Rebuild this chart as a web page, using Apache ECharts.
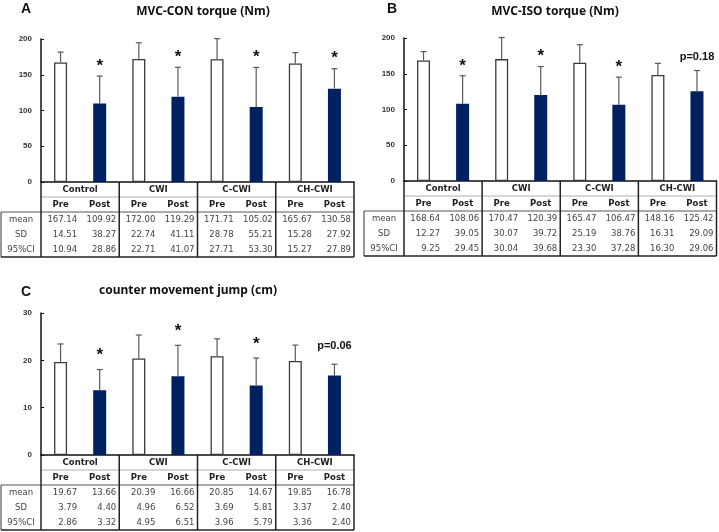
<!DOCTYPE html>
<html>
<head>
<meta charset="utf-8">
<script src="https://cdn.jsdelivr.net/npm/echarts@6/dist/echarts.min.js"></script>
<style>
html, body { margin: 0; padding: 0; background: #fff; }
#chart { width: 719px; height: 532px; }
</style>
</head>
<body>
<div id="chart"></div>
<script>
var groups = ['Control', 'CWI', 'C-CWI', 'CH-CWI'];
var phases = ['Pre', 'Post'];
var rowLabels = ['mean', 'SD', '95%CI'];

// A: MVC-CON torque
var conMean = [167.14, 109.92, 172.00, 119.29, 171.71, 105.02, 165.67, 130.58];
var conSD = [14.51, 38.27, 22.74, 41.11, 28.78, 55.21, 15.28, 27.92];
var conCI = [10.94, 28.86, 22.71, 41.07, 27.71, 53.30, 15.27, 27.89];
var conMarks = ['*', '*', '*', '*'];

// B: MVC-ISO torque
var isoMean = [168.64, 108.06, 170.47, 120.39, 165.47, 106.47, 148.16, 125.42];
var isoSD = [12.27, 39.05, 30.07, 39.72, 25.19, 38.76, 16.31, 29.09];
var isoCI = [9.25, 29.45, 30.04, 39.68, 23.30, 37.28, 16.30, 29.06];
var isoMarks = ['*', '*', '*', 'p=0.18'];

// C: counter movement jump
var cmjMean = [19.67, 13.66, 20.39, 16.66, 20.85, 14.67, 19.85, 16.78];
var cmjSD = [3.79, 4.40, 4.96, 6.52, 3.69, 5.81, 3.37, 2.40];
var cmjCI = [2.86, 3.32, 4.95, 6.51, 3.96, 5.79, 3.36, 2.40];
var cmjMarks = ['*', '*', '*', 'p=0.06'];

var NAVY = '#002060';
var EDGE = '#3a3a3a';
var ERR = '#595959';
var TXT = '#444';

var cats = [];
groups.forEach(function(g) {
    phases.forEach(function(p) { cats.push(g + ' ' + p); });
});

var panels = [
    { letter: 'A', title: 'MVC-CON torque (Nm)', mean: conMean, sd: conSD, ci: conCI, marks: conMarks,
      max: 200, interval: 50, gap: 14, grid: { left: 41, top: 39, width: 313, height: 143 },
      letterPos: [21, 2], titlePos: [203, 6] },
    { letter: 'B', title: 'MVC-ISO torque (Nm)', mean: isoMean, sd: isoSD, ci: isoCI, marks: isoMarks,
      max: 200, interval: 50, gap: 14, grid: { left: 404, top: 38, width: 312.5, height: 143 },
      letterPos: [387, 2], titlePos: [555, 6] },
    { letter: 'C', title: 'counter movement jump (cm)', mean: cmjMean, sd: cmjSD, ci: cmjCI, marks: cmjMarks,
      max: 30, interval: 10, gap: 18, grid: { left: 41, top: 313, width: 313, height: 142 },
      letterPos: [21, 285], titlePos: [188, 285] }
];

var chart = echarts.init(document.getElementById('chart'));

var option = {
    animation: false,
    backgroundColor: '#fff',
    title: [],
    grid: [],
    xAxis: [],
    yAxis: [],
    series: []
};

panels.forEach(function(p, gi) {
    option.title.push({
        text: p.letter, left: p.letterPos[0], top: p.letterPos[1], padding: 0,
        textStyle: { fontFamily: 'Liberation Sans', fontWeight: 'bold', fontSize: 14, color: '#111' }
    });
    option.title.push({
        text: p.title, left: p.titlePos[0], top: p.titlePos[1], padding: 0, textAlign: 'center',
        textStyle: { fontFamily: 'Noto Sans', fontWeight: 'bold', fontSize: 12, color: '#111' }
    });
    option.grid.push(p.grid);
    option.xAxis.push({
        type: 'category', gridIndex: gi, data: cats,
        axisLine: { lineStyle: { color: '#111', width: 1.5 } },
        axisTick: { show: false }, axisLabel: { show: false }, splitLine: { show: false }
    });
    option.yAxis.push({
        type: 'value', gridIndex: gi, min: 0, max: p.max, interval: p.interval,
        axisLine: { show: true, lineStyle: { color: '#111', width: 1.5 } },
        axisTick: { show: true, inside: true, length: 3, lineStyle: { color: '#111' } },
        axisLabel: { fontFamily: 'Liberation Sans', fontWeight: 'bold', fontSize: 8, color: '#333', margin: 9 },
        splitLine: { show: false }
    });
    option.series.push({
        type: 'bar', xAxisIndex: gi, yAxisIndex: gi, barWidth: 13,
        data: p.mean.map(function(v, i) {
            return {
                value: v,
                itemStyle: i % 2 === 0
                    ? { color: '#fff', borderColor: EDGE, borderWidth: 1.3 }
                    : { color: NAVY, borderColor: NAVY, borderWidth: 0 }
            };
        })
    });
    option.series.push({
        type: 'custom', xAxisIndex: gi, yAxisIndex: gi, clip: false, z: 3,
        data: p.mean.map(function(v, i) { return [i, v, p.sd[i]]; }),
        renderItem: function(params, api) {
            var i = api.value(0);
            var base = api.coord([i, api.value(1)]);
            var top = api.coord([i, api.value(1) + api.value(2)]);
            var st = { stroke: ERR, lineWidth: 1.2 };
            return { type: 'group', children: [
                { type: 'line', shape: { x1: base[0], y1: base[1], x2: top[0], y2: top[1] }, style: st },
                { type: 'line', shape: { x1: top[0] - 3, y1: top[1], x2: top[0] + 3, y2: top[1] }, style: st }
            ] };
        }
    });
    option.series.push({
        type: 'custom', xAxisIndex: gi, yAxisIndex: gi, clip: false, z: 4,
        data: p.marks.map(function(m, k) { var i = k * 2 + 1; return [i, p.mean[i] + p.sd[i]]; }),
        renderItem: function(params, api) {
            var pt = api.coord([api.value(0), api.value(1)]);
            var txt = p.marks[params.dataIndex];
            var star = txt === '*';
            return {
                type: 'text',
                style: {
                    text: txt, x: pt[0], y: pt[1] - p.gap + (star ? 4 : 0),
                    align: 'center', verticalAlign: 'middle', fill: '#111',
                    font: 'bold ' + (star ? 17 : 11) + 'px "Liberation Sans"'
                }
            };
        }
    });
});

chart.setOption(option);

// tables under each panel, placed from the category axis
function tableGraphics(gi, p) {
    var els = [];
    var a = chart.convertToPixel({ gridIndex: gi }, [0, 0]);
    var b = chart.convertToPixel({ gridIndex: gi }, [cats.length - 1, 0]);
    var band = (b[0] - a[0]) / (cats.length - 1);
    var left = a[0] - band / 2, right = b[0] + band / 2, top = a[1];
    var rh = 15, labW = 40;
    var rowY = function(r) { return top + r * rh; };
    function line(x1, y1, x2, y2, color, w) {
        els.push({ type: 'line', shape: { x1: x1, y1: y1, x2: x2, y2: y2 }, style: { stroke: color, lineWidth: w } });
    }
    function text(t, x, y, align, bold, color) {
        els.push({ type: 'text', style: { text: t, x: x, y: y, align: align, verticalAlign: 'middle', fill: color,
            font: (bold ? 'bold ' : '') + '8.5px "DejaVu Sans"' } });
    }
    line(left, rowY(1), right, rowY(1), '#999', 0.8);
    line(left - labW, rowY(2), right, rowY(2), '#555', 1);
    line(left - labW, rowY(2), left - labW, rowY(5), '#333', 1);
    line(left - labW, rowY(5), right, rowY(5), '#222', 1.5);
    for (var k = 0; k <= groups.length; k++) {
        var x = left + k * 2 * band;
        line(x, top, x, rowY(5), '#222', 1.5);
    }
    groups.forEach(function(g, k) {
        text(g, left + (k * 2 + 1) * band, rowY(0.5), 'center', true, '#222');
    });
    cats.forEach(function(c, i) {
        var cx = left + (i + 0.5) * band;
        text(phases[i % 2], cx, rowY(1.5), 'center', true, '#222');
        [p.mean, p.sd, p.ci].forEach(function(arr, r) {
            text(arr[i].toFixed(2), cx + band / 2 - 3, rowY(2.5 + r), 'right', false, TXT);
        });
    });
    rowLabels.forEach(function(l, r) {
        text(l, left - labW / 2, rowY(2.5 + r), 'center', false, TXT);
    });
    return els;
}

var graphics = [];
panels.forEach(function(p, gi) { graphics = graphics.concat(tableGraphics(gi, p)); });
chart.setOption({ graphic: graphics });
</script>
</body>
</html>
